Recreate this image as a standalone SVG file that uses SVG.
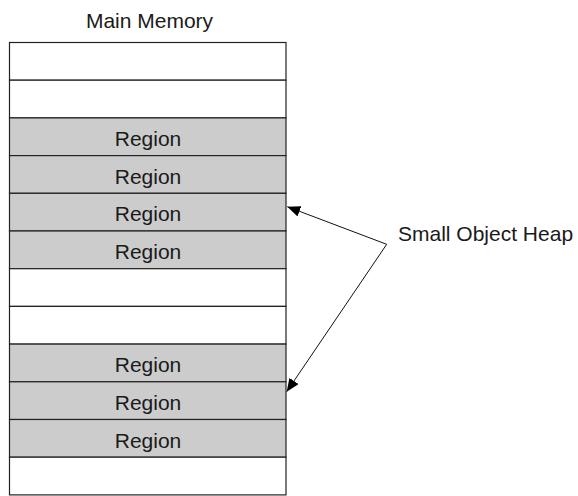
<svg xmlns="http://www.w3.org/2000/svg" width="578" height="496" viewBox="0 0 578 496">
<style>
.cell{stroke:#222;stroke-width:1.2}
.free{fill:#ffffff}
.reg{fill:#cccccc}
text{font-family:"Liberation Sans",Arial,sans-serif;font-size:21px;fill:#1a1a1a}
.c{text-anchor:middle}
.conn{stroke:#111;stroke-width:1;fill:none}
</style>
<defs>
<marker id="ah" viewBox="0 0 13 11" refX="13" refY="5.5" markerWidth="13" markerHeight="11" markerUnits="userSpaceOnUse" orient="auto">
<path d="M0,0 L13,5.5 L0,11 z" fill="#000"/>
</marker>
</defs>
<rect width="578" height="496" fill="#fff"/>
<g id="title"><text class="c" x="149.5" y="28">Main Memory</text></g>
<g id="row1"><rect class="cell free" x="9.5" y="42.5" width="276.5" height="37.7"/></g>
<g id="row2"><rect class="cell free" x="9.5" y="80.2" width="276.5" height="37.7"/></g>
<g id="row3"><rect class="cell reg" x="9.5" y="117.9" width="276.5" height="37.7"/><text class="c" x="148" y="146">Region</text></g>
<g id="row4"><rect class="cell reg" x="9.5" y="155.6" width="276.5" height="37.7"/><text class="c" x="148" y="183.7">Region</text></g>
<g id="row5"><rect class="cell reg" x="9.5" y="193.3" width="276.5" height="37.7"/><text class="c" x="148" y="221.4">Region</text></g>
<g id="row6"><rect class="cell reg" x="9.5" y="231" width="276.5" height="37.7"/><text class="c" x="148" y="259.1">Region</text></g>
<g id="row7"><rect class="cell free" x="9.5" y="268.7" width="276.5" height="37.7"/></g>
<g id="row8"><rect class="cell free" x="9.5" y="306.4" width="276.5" height="37.7"/></g>
<g id="row9"><rect class="cell reg" x="9.5" y="344.1" width="276.5" height="37.7"/><text class="c" x="148" y="372.2">Region</text></g>
<g id="row10"><rect class="cell reg" x="9.5" y="381.8" width="276.5" height="37.7"/><text class="c" x="148" y="409.9">Region</text></g>
<g id="row11"><rect class="cell reg" x="9.5" y="419.5" width="276.5" height="37.7"/><text class="c" x="148" y="447.6">Region</text></g>
<g id="row12"><rect class="cell free" x="9.5" y="457.2" width="276.5" height="37.7"/></g>
<g id="soh"><text x="398" y="241">Small Object Heap</text></g>
<g id="connectors">
<line class="conn" x1="386.7" y1="244.3" x2="287.3" y2="206.7" marker-end="url(#ah)"/>
<line class="conn" x1="386.7" y1="244.3" x2="286.7" y2="391.7" marker-end="url(#ah)"/>
</g>
</svg>
